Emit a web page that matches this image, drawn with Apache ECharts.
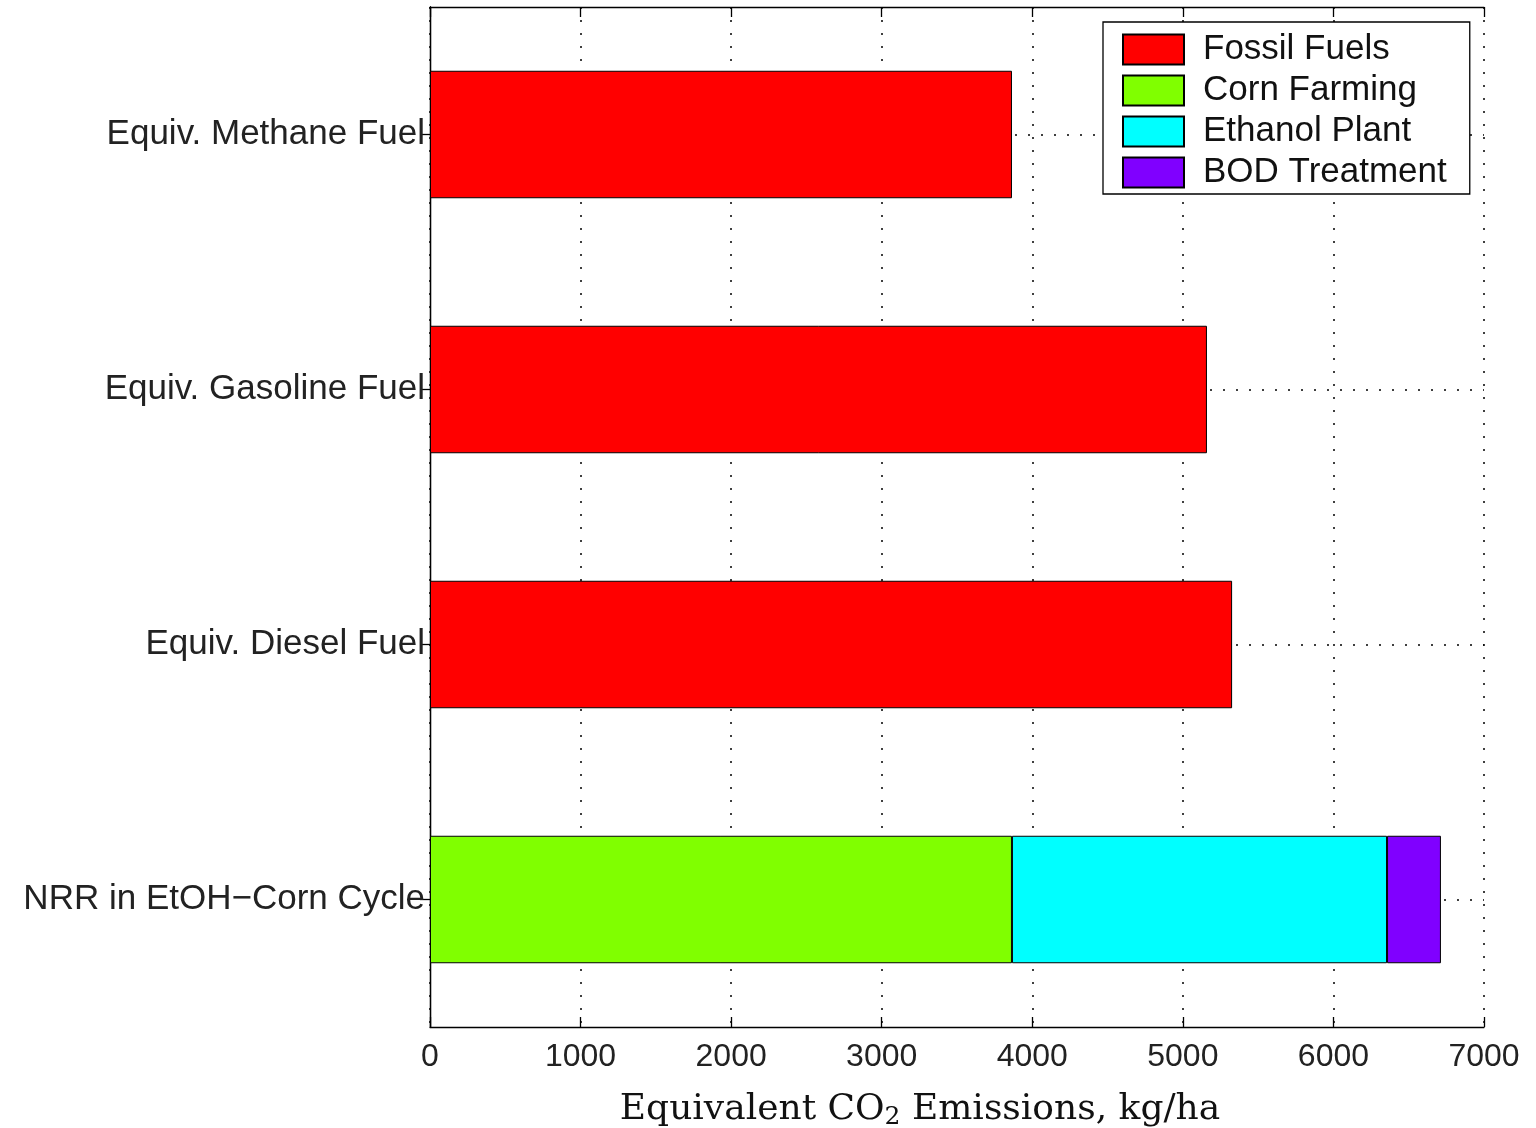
<!DOCTYPE html>
<html>
<head>
<meta charset="utf-8">
<script src="https://cdn.jsdelivr.net/npm/echarts@6/dist/echarts.min.js"></script>
<style>
  html, body { margin: 0; padding: 0; background: #fff; }
  #chart { width: 1536px; height: 1128px; }
</style>
</head>
<body>
<div id="chart"></div>
<script>
// categories bottom -> top
const categories = ['NRR in EtOH\u2212Corn Cycle', 'Equiv. Diesel Fuel', 'Equiv. Gasoline Fuel', 'Equiv. Methane Fuel']
const fossilFuels = [null, 5327, 5160, 3865]
const cornFarming = [3865, null, null, null]
const ethanolPlant = [2491, null, null, null]
const bodTreatment = [358, null, null, null]
const xTicks = [0, 1000, 2000, 3000, 4000, 5000, 6000, 7000]

const chart = echarts.init(document.getElementById('chart'))

const dotted = { color: '#000', width: 1.5, type: [2, 11] }
const sans = 'Liberation Sans, Arial, sans-serif'
const serif = 'DejaVu Serif, Liberation Serif, serif'
const axisLine = { show: true, lineStyle: { color: '#000', width: 1.3 } }
const tick = { show: true, inside: true, length: 10, lineStyle: { color: '#000', width: 1.3 } }

const makeSeries = (name, data, color) => ({
  name: name,
  type: 'bar',
  stack: 'total',
  data: data,
  barWidth: '50%',
  itemStyle: { color: color, borderColor: '#000', borderWidth: 1 },
  emphasis: { disabled: true }
})

const option = {
  animation: false,
  backgroundColor: '#fff',
  grid: { left: 430, top: 7, right: 52, bottom: 101, outerBoundsMode: 'none', containLabel: false },
  legend: {
    orient: 'vertical',
    left: 1103,
    top: 22,
    padding: [10, 23, 4, 19],
    itemWidth: 61,
    itemHeight: 30,
    itemGap: 6,
    backgroundColor: '#fff',
    borderColor: '#000',
    borderWidth: 1.3,
    icon: 'rect',
    textStyle: { fontSize: 35, fontFamily: sans, color: '#111', padding: [0, 0, 0, 14] },
    data: ['Fossil Fuels', 'Corn Farming', 'Ethanol Plant', 'BOD Treatment']
  },
  xAxis: [
    {
      type: 'value',
      min: xTicks[0],
      max: xTicks[xTicks.length - 1],
      interval: 1000,
      name: 'Equivalent CO{sub|2} Emissions, kg/ha',
      nameLocation: 'middle',
      nameGap: 62,
      nameTextStyle: {
        fontSize: 36,
        fontFamily: serif,
        color: '#111',
        padding: [0, 74, 0, 0],
        rich: {
          sub: { fontSize: 25, fontFamily: serif, color: '#111', padding: [16, 0, 0, 0] }
        }
      },
      axisLine: axisLine,
      axisTick: tick,
      axisLabel: { fontSize: 32, fontFamily: sans, color: '#222', margin: 14, formatter: (v) => String(v) },
      splitLine: { show: true, lineStyle: dotted }
    },
    {
      type: 'value',
      position: 'top',
      min: xTicks[0],
      max: xTicks[xTicks.length - 1],
      interval: 1000,
      axisLine: axisLine,
      axisTick: tick,
      axisLabel: { show: false },
      splitLine: { show: false }
    }
  ],
  yAxis: [
    {
      type: 'category',
      data: categories,
      axisLine: axisLine,
      // left ticks sit under the bars in the original, so they are not drawn
      axisTick: { show: false },
      axisLabel: { fontSize: 35, fontFamily: sans, color: '#222', margin: 5 },
      splitLine: { show: true, alignWithLabel: true, lineStyle: dotted }
    },
    {
      type: 'category',
      position: 'right',
      data: categories,
      axisLine: axisLine,
      axisTick: Object.assign({}, tick, { alignWithLabel: true }),
      axisLabel: { show: false },
      splitLine: { show: false }
    }
  ],
  series: [
    makeSeries('Fossil Fuels', fossilFuels, '#ff0000'),
    makeSeries('Corn Farming', cornFarming, '#80ff00'),
    makeSeries('Ethanol Plant', ethanolPlant, '#00ffff'),
    makeSeries('BOD Treatment', bodTreatment, '#8000ff')
  ]
}

chart.setOption(option)
</script>
</body>
</html>
